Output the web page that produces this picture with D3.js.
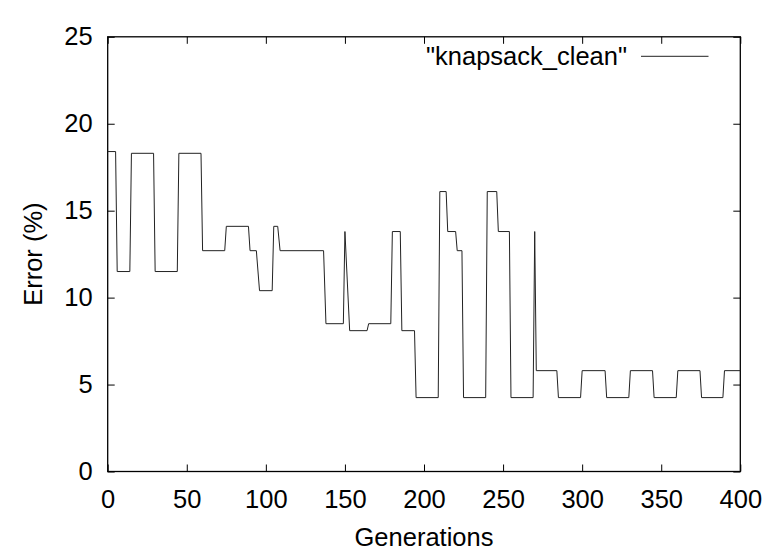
<!DOCTYPE html>
<html>
<head>
<meta charset="utf-8">
<script src="https://cdn.jsdelivr.net/npm/d3@7"></script>
<style>
  html, body { margin: 0; padding: 0; background: #fff; }
  text { font-family: "Liberation Sans", Arial, Helvetica, sans-serif; fill: #000; }
</style>
</head>
<body>
<svg id="chart" width="770" height="558"></svg>
<script>
// Data: generation (x) and error (%) pairs
const generations = [0, 5, 6, 14, 15, 29, 30, 44, 45, 59, 60, 74, 75, 89, 90, 94, 96, 104, 105, 107.5, 109, 136.5, 138, 149, 150, 153, 164, 165, 179, 180, 185, 186, 194, 195, 209, 210, 214, 215, 220, 221, 224, 225, 239, 240, 246, 247, 254, 255, 269, 270, 271, 284, 285, 299, 300, 314.5, 315.5, 329.5, 330.5, 344.5, 345.5, 359.5, 360.5, 374.5, 375.5, 389, 390, 400];
const errors = [18.4, 18.4, 11.5, 11.5, 18.3, 18.3, 11.5, 11.5, 18.3, 18.3, 12.7, 12.7, 14.1, 14.1, 12.7, 12.7, 10.4, 10.4, 14.1, 14.1, 12.7, 12.7, 8.5, 8.5, 13.8, 8.1, 8.1, 8.5, 8.5, 13.8, 13.8, 8.1, 8.1, 4.25, 4.25, 16.1, 16.1, 13.8, 13.8, 12.7, 12.7, 4.25, 4.25, 16.1, 16.1, 13.8, 13.8, 4.25, 4.25, 13.8, 5.8, 5.8, 4.25, 4.25, 5.8, 5.8, 4.25, 4.25, 5.8, 5.8, 4.25, 4.25, 5.8, 5.8, 4.25, 4.25, 5.8, 5.8];
const xTicks = [0, 50, 100, 150, 200, 250, 300, 350, 400];
const yTicks = [0, 5, 10, 15, 20, 25];
const seriesName = '"knapsack_clean"';
const xLabel = "Generations";
const yLabel = "Error (%)";

const svg = d3.select("#chart");
const mLeft = 107.7, mRight = 740.3, mTop = 36.8, mBottom = 471.5;

const x = d3.scaleLinear().domain([0, 400]).range([mLeft, mRight]);
const y = d3.scaleLinear().domain([0, 25]).range([mBottom, mTop]);
const tickLen = 7;
const fs = 25.5;

// Frame
svg.append("rect")
  .attr("x", mLeft).attr("y", mTop)
  .attr("width", mRight - mLeft).attr("height", mBottom - mTop)
  .attr("fill", "none").attr("stroke", "#000").attr("stroke-width", 1.3);

// Bottom axis (inward ticks)
const xAxis = d3.axisBottom(x).tickValues(xTicks).tickSize(-tickLen).tickPadding(18).tickFormat(d3.format("d"));
const gx = svg.append("g").attr("transform", `translate(0,${mBottom})`).call(xAxis);
gx.select(".domain").remove();
gx.selectAll(".tick line").attr("stroke", "#000");
gx.selectAll(".tick text").attr("font-size", fs).attr("font-family", "Liberation Sans, Arial, sans-serif").attr("fill", "#000");

// Top mirror ticks
const gxt = svg.append("g").attr("transform", `translate(0,${mTop})`).call(d3.axisTop(x).tickValues(xTicks).tickSize(-tickLen).tickFormat(""));
gxt.select(".domain").remove();
gxt.selectAll(".tick line").attr("stroke", "#000");

// Left axis
const yAxis = d3.axisLeft(y).tickValues(yTicks).tickSize(-tickLen).tickPadding(15).tickFormat(d3.format("d"));
const gy = svg.append("g").attr("transform", `translate(${mLeft},0)`).call(yAxis);
gy.select(".domain").remove();
gy.selectAll(".tick line").attr("stroke", "#000");
gy.selectAll(".tick text").attr("font-size", fs).attr("font-family", "Liberation Sans, Arial, sans-serif").attr("fill", "#000");

// Right mirror ticks
const gyr = svg.append("g").attr("transform", `translate(${mRight},0)`).call(d3.axisRight(y).tickValues(yTicks).tickSize(-tickLen).tickFormat(""));
gyr.select(".domain").remove();
gyr.selectAll(".tick line").attr("stroke", "#000");

// Data line
const pts = generations.map((g, i) => [g, errors[i]]);
const line = d3.line().x(d => x(d[0])).y(d => y(d[1]));
svg.append("path")
  .datum(pts)
  .attr("d", line)
  .attr("fill", "none")
  .attr("stroke", "#222")
  .attr("stroke-width", 1)
  .attr("stroke-linejoin", "miter");

// Legend
svg.append("text")
  .attr("x", 627).attr("y", 65)
  .attr("text-anchor", "end")
  .attr("font-size", fs)
  .text(seriesName);
svg.append("line")
  .attr("x1", 641).attr("x2", 708.5)
  .attr("y1", 56.3).attr("y2", 56.3)
  .attr("stroke", "#222").attr("stroke-width", 1);

// Axis labels
svg.append("text")
  .attr("x", (mLeft + mRight) / 2).attr("y", 545.5)
  .attr("text-anchor", "middle")
  .attr("font-size", fs)
  .text(xLabel);
svg.append("text")
  .attr("transform", `translate(42,${(mTop + mBottom) / 2}) rotate(-90)`)
  .attr("text-anchor", "middle")
  .attr("font-size", fs)
  .text(yLabel);
</script>
</body>
</html>
